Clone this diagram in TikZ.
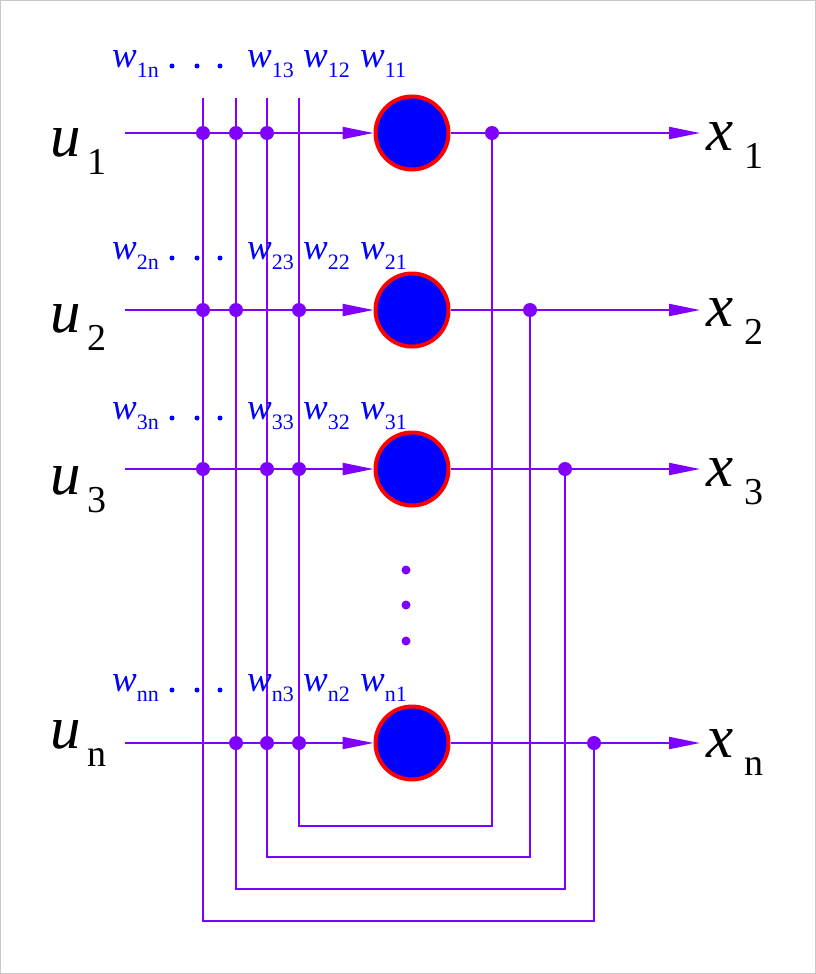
\documentclass[tikz,border=0pt]{standalone}
\usepackage{fontspec}
\setmainfont{Liberation Serif}
\usetikzlibrary{arrows.meta}
\definecolor{wirepurple}{RGB}{128,0,255}
\definecolor{neuronblue}{RGB}{0,0,255}
\definecolor{neuronred}{RGB}{255,0,0}
\definecolor{framegray}{RGB}{200,200,200}
\newcommand{\iolab}[3]{{\fontsize{61}{61}\selectfont\itshape #1}\hspace{#3}\raisebox{-18pt}{\fontsize{38}{38}\selectfont #2}}
\newcommand{\wlab}[1]{{\fontsize{37}{37}\selectfont\itshape w}\raisebox{-10pt}{\fontsize{22}{22}\selectfont #1}}

\begin{document}
\begin{tikzpicture}[
		x=1pt, y=-1pt,
		neuron/.style={circle, draw=neuronred, line width=4pt, fill=neuronblue,
			minimum size=73pt, inner sep=0pt},
		wire/.style={wirepurple, line width=2pt},
		arrow/.style={wire, -{Triangle[length=31pt,width=12pt]}},
		dot/.style={circle, fill=wirepurple, inner sep=0pt, minimum size=14pt},
		vdot/.style={circle, fill=wirepurple, inner sep=0pt, minimum size=9pt},
		wdot/.style={circle, fill=neuronblue, inner sep=0pt, minimum size=5pt},
		lab/.style={anchor=base west, inner sep=0pt},
		wlab/.style={lab, text=neuronblue}
	]
		\useasboundingbox (0,0) rectangle (816,974);
		\draw[framegray, line width=1pt] (0.5,0.5) rectangle (815.5,973.5);

		% neurons
		\node[neuron] (n1) at (412,133) {};
		\node[neuron] (n2) at (412,310) {};
		\node[neuron] (n3) at (412,469) {};
		\node[neuron] (nn) at (412,743) {};

		% inputs and outputs
		\coordinate (i1) at (125,133);
		\coordinate (i2) at (125,310);
		\coordinate (i3) at (125,469);
		\coordinate (in) at (125,743);
		\coordinate (o1) at (700,133);
		\coordinate (o2) at (700,310);
		\coordinate (o3) at (700,469);
		\coordinate (on) at (700,743);

		\draw[arrow] (i1) -- (n1.west);
		\draw[arrow] (i2) -- (n2.west);
		\draw[arrow] (i3) -- (n3.west);
		\draw[arrow] (in) -- (nn.west);
		\draw[arrow] (n1.east) -- (o1);
		\draw[arrow] (n2.east) -- (o2);
		\draw[arrow] (n3.east) -- (o3);
		\draw[arrow] (nn.east) -- (on);

		% feedback taps
		\node[dot] (t1) at (492,133) {};
		\node[dot] (t2) at (530,310) {};
		\node[dot] (t3) at (565,469) {};
		\node[dot] (tn) at (594,743) {};

		% weight columns and feedback loops
		\coordinate (c1) at (203,98);
		\coordinate (c2) at (236,98);
		\coordinate (c3) at (267,98);
		\coordinate (c4) at (299,98);
		\coordinate (f1) at (492,826);
		\coordinate (f2) at (530,857);
		\coordinate (f3) at (565,889);
		\coordinate (fn) at (594,921);

		\draw[wire] (c4) |- (f1) -- (t1);
		\draw[wire] (c3) |- (f2) -- (t2);
		\draw[wire] (c2) |- (f3) -- (t3);
		\draw[wire] (c1) |- (fn) -- (tn);

		% junctions
		\node[dot] (j1a) at (203,133) {};
		\node[dot] (j1b) at (236,133) {};
		\node[dot] (j1c) at (267,133) {};
		\node[dot] (j2a) at (203,310) {};
		\node[dot] (j2b) at (236,310) {};
		\node[dot] (j2d) at (299,310) {};
		\node[dot] (j3a) at (203,469) {};
		\node[dot] (j3c) at (267,469) {};
		\node[dot] (j3d) at (299,469) {};
		\node[dot] (jnb) at (236,743) {};
		\node[dot] (jnc) at (267,743) {};
		\node[dot] (jnd) at (299,743) {};

		% skipped rows
		\node[vdot] (v1) at (406,570) {};
		\node[vdot] (v2) at (406,605) {};
		\node[vdot] (v3) at (406,641) {};

		% labels
		\node[lab] (u1) at (50,156) {\iolab{u}{1}{7pt}};
		\node[lab] (u2) at (50,332) {\iolab{u}{2}{7pt}};
		\node[lab] (u3) at (50,494) {\iolab{u}{3}{7pt}};
		\node[lab] (un) at (50,748) {\iolab{u}{n}{7pt}};
		\node[lab] (x1) at (706,150) {\iolab{x}{1}{11pt}};
		\node[lab] (x2) at (706,326) {\iolab{x}{2}{11pt}};
		\node[lab] (x3) at (706,486) {\iolab{x}{3}{11pt}};
		\node[lab] (xn) at (706,757) {\iolab{x}{n}{11pt}};

		\node[wlab] (w1n) at (112,67) {\wlab{1n}};
		\node[wlab] (w13) at (247,67) {\wlab{13}};
		\node[wlab] (w12) at (303,67) {\wlab{12}};
		\node[wlab] (w11) at (360,67) {\wlab{11}};
		\node[wdot] at (172,66) {};
		\node[wdot] at (197,66) {};
		\node[wdot] at (220,66) {};

		\node[wlab] (w2n) at (112,259) {\wlab{2n}};
		\node[wlab] (w23) at (247,259) {\wlab{23}};
		\node[wlab] (w22) at (303,259) {\wlab{22}};
		\node[wlab] (w21) at (360,259) {\wlab{21}};
		\node[wdot] at (172,258) {};
		\node[wdot] at (197,258) {};
		\node[wdot] at (220,258) {};

		\node[wlab] (w3n) at (112,419) {\wlab{3n}};
		\node[wlab] (w33) at (247,419) {\wlab{33}};
		\node[wlab] (w32) at (303,419) {\wlab{32}};
		\node[wlab] (w31) at (360,419) {\wlab{31}};
		\node[wdot] at (172,418) {};
		\node[wdot] at (197,418) {};
		\node[wdot] at (220,418) {};

		\node[wlab] (wnn) at (112,691) {\wlab{nn}};
		\node[wlab] (wn3) at (247,691) {\wlab{n3}};
		\node[wlab] (wn2) at (303,691) {\wlab{n2}};
		\node[wlab] (wn1) at (360,691) {\wlab{n1}};
		\node[wdot] at (172,690) {};
		\node[wdot] at (197,690) {};
		\node[wdot] at (220,690) {};
	\end{tikzpicture}
\end{document}
